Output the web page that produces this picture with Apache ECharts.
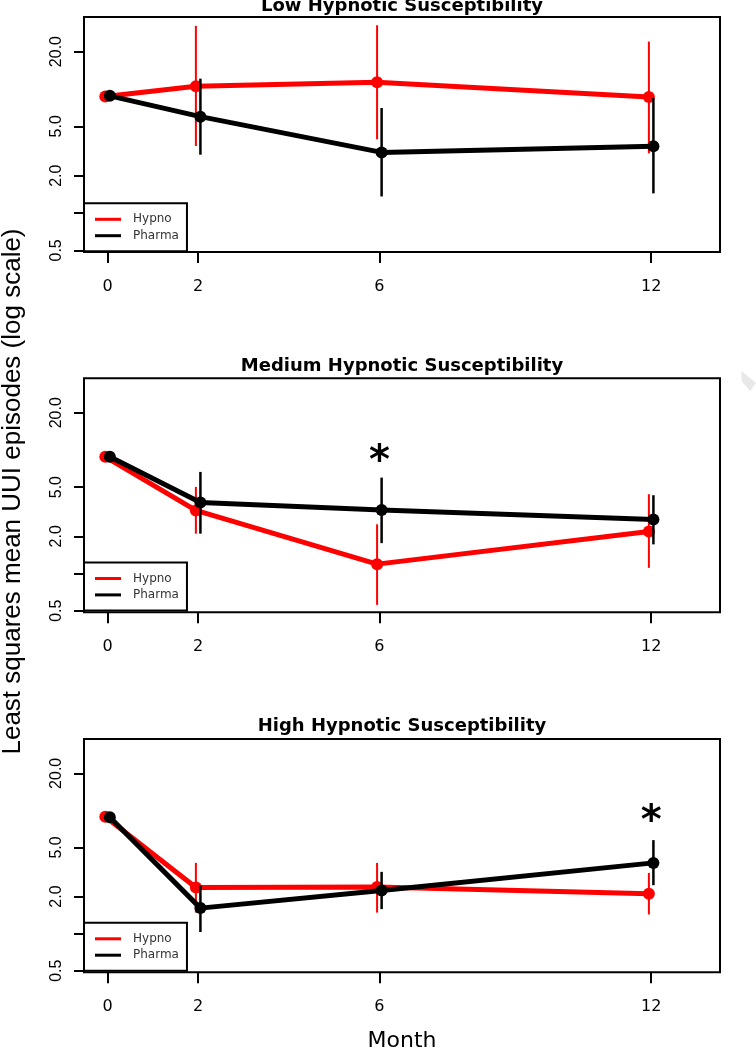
<!DOCTYPE html>
<html><head><meta charset="utf-8">
<script src="https://cdn.jsdelivr.net/npm/echarts@6/dist/echarts.min.js"></script>
<style>html,body{margin:0;padding:0;background:#fff}#c{width:756px;height:1050px}</style>
</head><body><div id="c"></div>
<script>
// ---- data ----
const months = [0, 2, 6, 12];
const xTickValues = [0, 2, 6, 12];
const yTickValues = [0.5, 1, 2, 5, 20];
const yLabelValues = [0.5, 2, 5, 20];
const panelTitles = ['Low Hypnotic Susceptibility', 'Medium Hypnotic Susceptibility', 'High Hypnotic Susceptibility'];
const seriesNames = ['Hypno', 'Pharma'];

// Low susceptibility
const lowHypno    = [8.7, 10.5, 11.3, 8.6];
const lowHypnoLo  = [null, 3.47, 3.93, 3.03];
const lowHypnoHi  = [null, 32.2, 32.6, 24.1];
const lowPharma   = [8.8, 5.98, 3.08, 3.45];
const lowPharmaLo = [null, 2.95, 1.36, 1.44];
const lowPharmaHi = [null, 12.1, 7.02, 8.45];

// Medium susceptibility
const medHypno    = [8.8, 3.24, 1.19, 2.19];
const medHypnoLo  = [null, 2.10, 0.557, 1.11];
const medHypnoHi  = [null, 5.02, 2.50, 4.38];
const medPharma   = [8.8, 3.75, 3.27, 2.74];
const medPharmaLo = [null, 2.10, 1.76, 1.72];
const medPharmaHi = [null, 6.64, 5.97, 4.30];

// High susceptibility
const highHypno    = [8.87, 2.37, 2.39, 2.11];
const highHypnoLo  = [null, 1.48, 1.48, 1.43];
const highHypnoHi  = [null, 3.75, 3.75, 3.11];
const highPharma   = [8.8, 1.61, 2.24, 3.75];
const highPharmaLo = [null, 1.03, 1.58, 2.47];
const highPharmaHi = [null, 2.47, 3.17, 5.74];

// significance markers: [month, value] per panel
const lowStars  = [];
const medStars  = [[6, 9.4]];
const highStars = [[12, 9.5]];

// ---- build ----
const panels = [
  {h: lowHypno,  hl: lowHypnoLo,  hh: lowHypnoHi,  p: lowPharma,  pl: lowPharmaLo,  ph: lowPharmaHi,  s: lowStars},
  {h: medHypno,  hl: medHypnoLo,  hh: medHypnoHi,  p: medPharma,  pl: medPharmaLo,  ph: medPharmaHi,  s: medStars},
  {h: highHypno, hl: highHypnoLo, hh: highHypnoHi, p: highPharma, pl: highPharmaLo, ph: highPharmaHi, s: highStars}
];
const RED = '#ff0000', BLACK = '#000000';
const DX = [-0.05, 0.05]; // small horizontal dodge of the two groups
const gridTops = [17, 378.3, 739];
const gridHeights = [235, 234, 233.3];
const titleTops = [-2.5, 357, 717];
const legendTops = [203.3, 562.5, 922.8];

function errSeries(name, color, width, dx, lo, hi, idx, z) {
  const data = [];
  months.forEach((m, k) => { if (lo[k] != null) data.push([m + dx, lo[k], hi[k]]); });
  return {
    type: 'custom', name: name, xAxisIndex: idx, yAxisIndex: idx, z: z,
    encode: {x: 0, y: [1, 2]},
    renderItem: function (params, api) {
      const a = api.coord([api.value(0), api.value(1)]);
      const b = api.coord([api.value(0), api.value(2)]);
      return {type: 'line', shape: {x1: a[0], y1: a[1], x2: b[0], y2: b[1]},
              style: {stroke: color, lineWidth: width}};
    },
    data: data, silent: true
  };
}

const grid = [], xAxis = [], yAxis = [], series = [], legend = [], title = [];
panels.forEach((P, i) => {
  grid.push({left: 84, width: 636, top: gridTops[i], height: gridHeights[i], outerBoundsMode: 'none',
             containLabel: false,
             show: true, borderColor: '#000', borderWidth: 2, backgroundColor: 'transparent'});
  xAxis.push({
    type: 'value', gridIndex: i, min: -0.52, max: 13.52,
    splitLine: {show: false}, axisLine: {show: false, onZero: false},
    axisTick: {show: true, customValues: xTickValues, length: 11, lineStyle: {color: '#000', width: 2}},
    axisLabel: {customValues: xTickValues, margin: 27, color: '#000', fontFamily: 'DejaVu Sans', fontSize: 16,
                formatter: v => String(v)},
    name: i === 2 ? 'Month' : '', nameLocation: 'middle', nameGap: 58,
    nameTextStyle: {fontFamily: 'DejaVu Sans', fontSize: 22, color: '#000'}
  });
  yAxis.push({
    type: 'log', logBase: 10, gridIndex: i, min: 0.485, max: 38,
    splitLine: {show: false}, axisLine: {show: false, onZero: false}, minorTick: {show: false},
    axisTick: {show: true, customValues: yTickValues, length: 10, lineStyle: {color: '#000', width: 2}},
    axisLabel: {customValues: yLabelValues, rotate: 90, margin: 19, color: '#000',
                fontFamily: 'Liberation Sans', fontSize: 16, hideOverlap: false,
                formatter: v => Number(v).toFixed(1)}
  });
  series.push({
    type: 'line', name: 'Hypno', xAxisIndex: i, yAxisIndex: i, z: 2,
    data: months.map((m, k) => [m + DX[0], P.h[k]]),
    color: RED, lineStyle: {color: RED, width: 5}, itemStyle: {color: RED},
    symbol: 'circle', symbolSize: 12, showSymbol: true, animation: false
  });
  series.push(errSeries('Hypno CI', RED, 2, DX[0], P.hl, P.hh, i, 3));
  series.push({
    type: 'line', name: 'Pharma', xAxisIndex: i, yAxisIndex: i, z: 4,
    data: months.map((m, k) => [m + DX[1], P.p[k]]),
    color: BLACK, lineStyle: {color: BLACK, width: 5}, itemStyle: {color: BLACK},
    symbol: 'circle', symbolSize: 12, showSymbol: true, animation: false
  });
  series.push(errSeries('Pharma CI', BLACK, 2.5, DX[1], P.pl, P.ph, i, 5));
  if (P.s.length) {
    series.push({
      type: 'scatter', name: 'sig', xAxisIndex: i, yAxisIndex: i, z: 6, silent: true,
      data: P.s, symbol: 'circle', symbolSize: 1, itemStyle: {color: 'rgba(0,0,0,0)', opacity: 1},
      label: {show: true, position: 'inside', formatter: '*', color: '#000', opacity: 1,
              fontFamily: 'DejaVu Sans', fontWeight: 'bold', fontSize: 40, offset: [0, 9]}
    });
  }
  legend.push({
    data: seriesNames, orient: 'vertical', left: 84, top: legendTops[i],
    icon: 'rect', itemWidth: 26, itemHeight: 3, itemGap: 2.4,
    padding: [9, 8, 8.6, 11], borderColor: '#000', borderWidth: 2, borderRadius: 0,
    backgroundColor: '#fff', selectedMode: false,
    textStyle: {fontFamily: 'DejaVu Sans', fontSize: 12, color: '#333', lineHeight: 14, padding: [0, 0, 0, 7]}
  });
  title.push({
    text: panelTitles[i], left: 402, textAlign: 'center', top: titleTops[i], padding: 0,
    textStyle: {fontFamily: 'DejaVu Sans', fontWeight: 'bold', fontSize: 18, color: '#000'}
  });
});

const chart = echarts.init(document.getElementById('c'), null, {renderer: 'canvas'});
chart.setOption({
  animation: false,
  backgroundColor: '#fff',
  title: title, grid: grid, xAxis: xAxis, yAxis: yAxis, legend: legend, series: series,
  graphic: [
    {type: 'text', x: 13, y: 491.5, rotation: Math.PI / 2,
     style: {text: 'Least squares mean UUI episodes (log scale)', fontFamily: 'Liberation Sans', fontSize: 26,
             fill: '#000', align: 'center', verticalAlign: 'middle'}},
    {type: 'polygon', shape: {points: [[741.5, 371], [756, 383], [750, 391], [741.5, 381]]},
     style: {fill: '#e8e8e8'}}
  ]
});
</script></body></html>
